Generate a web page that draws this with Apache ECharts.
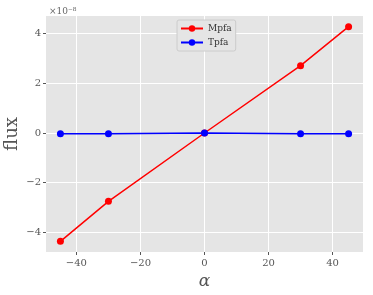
<!DOCTYPE html>
<html><head><meta charset="utf-8">
<script src="https://cdn.jsdelivr.net/npm/echarts@6/dist/echarts.min.js"></script>
<style>html,body{margin:0;padding:0;background:#fff}#c{width:373px;height:295px}</style>
</head><body><div id="c"></div>
<script>
var alpha = [-45, -30, 0, 30, 45];
var mpfa = [-4.36, -2.75, 0, 2.71, 4.28];   // ×1e-8
var tpfa = [-0.03, -0.03, 0, -0.03, -0.03]; // ×1e-8
var xTicks = [-40, -20, 0, 20, 40];
var yTicks = [-4, -2, 0, 2, 4];
var seriesNames = ['Mpfa', 'Tpfa'];
var scaleText = '×10⁻⁸';

var font = 'DejaVu Serif';
var chart = echarts.init(document.getElementById('c'));
function pairs(ys){ return alpha.map(function(a,i){ return [a, ys[i]]; }); }
function fmt(v){ return v < 0 ? '−' + (-v) : String(v); }
chart.setOption({
  animation: false,
  backgroundColor: '#fff',
  title: { text: scaleText, left: 44, top: 2, textStyle: { fontFamily: font, fontSize: 9, color: '#666', fontWeight: 'normal' } },
  grid: { left: 46, right: 10, top: 16, bottom: 43, show: true, backgroundColor: '#e5e5e5', borderWidth: 0,
    containLabel: false, outerBoundsMode: 'none' },
  legend: {
    orient: 'vertical', left: 177, top: 20, itemWidth: 22, itemHeight: 8, itemGap: 5,
    backgroundColor: '#e5e5e5', borderColor: '#cccccc', borderWidth: 1, borderRadius: 2, padding: [4, 4, 4, 3],
    textStyle: { fontFamily: font, fontSize: 9, color: '#333' },
    data: seriesNames
  },
  xAxis: {
    type: 'value', min: -49.5, max: 49.5,
    name: 'α', nameLocation: 'middle', nameGap: 21, nameMoveOverlap: false,
    nameTextStyle: { fontFamily: font, fontStyle: 'italic', fontSize: 17, color: '#555' },
    axisLine: { show: false, onZero: false },
    axisTick: { show: true, customValues: xTicks, length: 3, lineStyle: { color: '#555' } },
    axisLabel: { customValues: xTicks, fontFamily: font, fontSize: 10, color: '#555', margin: 6, formatter: fmt },
    splitLine: { show: true, lineStyle: { color: '#ffffff', width: 1 } }
  },
  yAxis: {
    type: 'value', min: -4.79, max: 4.71,
    name: 'flux', nameLocation: 'middle', nameGap: 25, nameMoveOverlap: false,
    nameTextStyle: { fontFamily: font, fontSize: 18, color: '#555' },
    axisLine: { show: false, onZero: false },
    axisTick: { show: true, customValues: yTicks, length: 3, lineStyle: { color: '#555' } },
    axisLabel: { customValues: yTicks, fontFamily: font, fontSize: 10, color: '#555', margin: 5, formatter: fmt },
    splitLine: { show: true, lineStyle: { color: '#ffffff', width: 1 } }
  },
  series: [
    { name: seriesNames[0], type: 'line', data: pairs(mpfa), symbol: 'circle', symbolSize: 7,
      color: '#ff0000', lineStyle: { width: 1.5, color: '#ff0000' }, itemStyle: { color: '#ff0000' } },
    { name: seriesNames[1], type: 'line', data: pairs(tpfa), symbol: 'circle', symbolSize: 7,
      color: '#0000ff', lineStyle: { width: 1.5, color: '#0000ff' }, itemStyle: { color: '#0000ff' } }
  ]
});
</script></body></html>
